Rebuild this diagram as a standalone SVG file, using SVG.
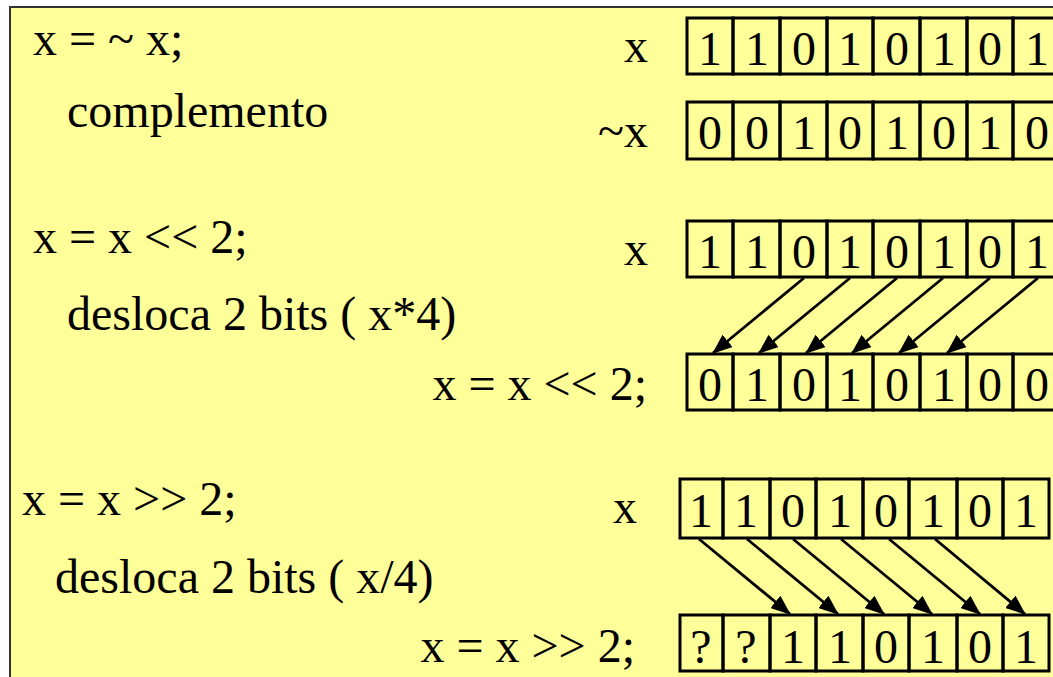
<svg xmlns="http://www.w3.org/2000/svg" width="1053" height="677" viewBox="0 0 1053 677">
  <defs>
    <marker id="head" viewBox="0 0 20 16" refX="19" refY="8" markerWidth="20" markerHeight="16" markerUnits="userSpaceOnUse" orient="auto">
      <path d="M0,0 L20,8 L0,16 z" fill="#000"/>
    </marker>
    <style>
      text { font-family: "Liberation Serif", "Times New Roman", serif; font-size: 48px; fill: #000; }
      .bit { text-anchor: middle; }
      .lbl { text-anchor: end; }
      .cell { fill: none; stroke: #000; stroke-width: 3; }
      .arrow { stroke: #000; stroke-width: 2.8; fill: none; marker-end: url(#head); }
    </style>
  </defs>

  <!-- slide background -->
  <rect x="0" y="0" width="1053" height="677" fill="#ffffff"/>
  <rect x="10" y="7" width="1100" height="720" fill="#FFFF99" stroke="#333" stroke-width="2"/>

  <!-- complement -->
  <g id="complement-text">
    <text x="33" y="55">x = ~ x;</text>
    <text x="67" y="127">complemento</text>
  </g>
  <g id="row-x1">
    <text class="lbl" x="648" y="62">x</text>
    <g class="cells">
      <rect class="cell" x="687" y="18" width="46" height="56"/>
      <rect class="cell" x="733" y="18" width="47" height="56"/>
      <rect class="cell" x="780" y="18" width="47" height="56"/>
      <rect class="cell" x="827" y="18" width="46" height="56"/>
      <rect class="cell" x="873" y="18" width="47" height="56"/>
      <rect class="cell" x="920" y="18" width="47" height="56"/>
      <rect class="cell" x="967" y="18" width="46" height="56"/>
      <rect class="cell" x="1013" y="18" width="50" height="56"/>
    </g>
    <text class="bit" x="710" y="65">1</text>
    <text class="bit" x="757" y="65">1</text>
    <text class="bit" x="804" y="65">0</text>
    <text class="bit" x="850" y="65">1</text>
    <text class="bit" x="897" y="65">0</text>
    <text class="bit" x="944" y="65">1</text>
    <text class="bit" x="990" y="65">0</text>
    <text class="bit" x="1037" y="65">1</text>
  </g>
  <g id="row-notx">
    <text class="lbl" x="648" y="147">~x</text>
    <rect class="cell" x="687" y="102" width="46" height="57"/>
    <rect class="cell" x="733" y="102" width="47" height="57"/>
    <rect class="cell" x="780" y="102" width="47" height="57"/>
    <rect class="cell" x="827" y="102" width="46" height="57"/>
    <rect class="cell" x="873" y="102" width="47" height="57"/>
    <rect class="cell" x="920" y="102" width="47" height="57"/>
    <rect class="cell" x="967" y="102" width="46" height="57"/>
    <rect class="cell" x="1013" y="102" width="50" height="57"/>
    <text class="bit" x="710" y="149">0</text>
    <text class="bit" x="757" y="149">0</text>
    <text class="bit" x="804" y="149">1</text>
    <text class="bit" x="850" y="149">0</text>
    <text class="bit" x="897" y="149">1</text>
    <text class="bit" x="944" y="149">0</text>
    <text class="bit" x="990" y="149">1</text>
    <text class="bit" x="1037" y="149">0</text>
  </g>

  <!-- shift left -->
  <g id="shl-text">
    <text x="33" y="253">x = x &lt;&lt; 2;</text>
    <text x="67" y="330">desloca 2 bits ( x*4)</text>
  </g>
  <g id="row-x2">
    <text class="lbl" x="648" y="265">x</text>
    <rect class="cell" x="687" y="221" width="46" height="56"/>
    <rect class="cell" x="733" y="221" width="47" height="56"/>
    <rect class="cell" x="780" y="221" width="47" height="56"/>
    <rect class="cell" x="827" y="221" width="46" height="56"/>
    <rect class="cell" x="873" y="221" width="47" height="56"/>
    <rect class="cell" x="920" y="221" width="47" height="56"/>
    <rect class="cell" x="967" y="221" width="46" height="56"/>
    <rect class="cell" x="1013" y="221" width="50" height="56"/>
    <text class="bit" x="710" y="268">1</text>
    <text class="bit" x="757" y="268">1</text>
    <text class="bit" x="804" y="268">0</text>
    <text class="bit" x="850" y="268">1</text>
    <text class="bit" x="897" y="268">0</text>
    <text class="bit" x="944" y="268">1</text>
    <text class="bit" x="990" y="268">0</text>
    <text class="bit" x="1037" y="268">1</text>
  </g>
  <g id="row-shl">
    <text class="lbl" x="647" y="400">x = x &lt;&lt; 2;</text>
    <rect class="cell" x="687" y="354" width="46" height="56"/>
    <rect class="cell" x="733" y="354" width="47" height="56"/>
    <rect class="cell" x="780" y="354" width="47" height="56"/>
    <rect class="cell" x="827" y="354" width="46" height="56"/>
    <rect class="cell" x="873" y="354" width="47" height="56"/>
    <rect class="cell" x="920" y="354" width="47" height="56"/>
    <rect class="cell" x="967" y="354" width="46" height="56"/>
    <rect class="cell" x="1013" y="354" width="50" height="56"/>
    <text class="bit" x="710" y="401">0</text>
    <text class="bit" x="757" y="401">1</text>
    <text class="bit" x="804" y="401">0</text>
    <text class="bit" x="850" y="401">1</text>
    <text class="bit" x="897" y="401">0</text>
    <text class="bit" x="944" y="401">1</text>
    <text class="bit" x="990" y="401">0</text>
    <text class="bit" x="1037" y="401">0</text>
  </g>

  <!-- shift right -->
  <g id="shr-text">
    <text x="22" y="515">x = x &gt;&gt; 2;</text>
    <text x="55" y="593">desloca 2 bits ( x/4)</text>
  </g>
  <g id="row-x3">
    <text class="lbl" x="637" y="523">x</text>
    <rect class="cell" x="680" y="479" width="43" height="59"/>
    <rect class="cell" x="723" y="479" width="47" height="59"/>
    <rect class="cell" x="770" y="479" width="46" height="59"/>
    <rect class="cell" x="816" y="479" width="47" height="59"/>
    <rect class="cell" x="863" y="479" width="46" height="59"/>
    <rect class="cell" x="909" y="479" width="48" height="59"/>
    <rect class="cell" x="957" y="479" width="46" height="59"/>
    <rect class="cell" x="1003" y="479" width="46" height="59"/>
    <text class="bit" x="701" y="527">1</text>
    <text class="bit" x="746" y="527">1</text>
    <text class="bit" x="793" y="527">0</text>
    <text class="bit" x="840" y="527">1</text>
    <text class="bit" x="886" y="527">0</text>
    <text class="bit" x="933" y="527">1</text>
    <text class="bit" x="980" y="527">0</text>
    <text class="bit" x="1026" y="527">1</text>
  </g>
  <g id="row-shr">
    <text class="lbl" x="635" y="662">x = x &gt;&gt; 2;</text>
    <rect class="cell" x="680" y="615" width="43" height="56"/>
    <rect class="cell" x="723" y="615" width="47" height="56"/>
    <rect class="cell" x="770" y="615" width="46" height="56"/>
    <rect class="cell" x="816" y="615" width="47" height="56"/>
    <rect class="cell" x="863" y="615" width="46" height="56"/>
    <rect class="cell" x="909" y="615" width="48" height="56"/>
    <rect class="cell" x="957" y="615" width="46" height="56"/>
    <rect class="cell" x="1003" y="615" width="46" height="56"/>
    <text class="bit" x="701" y="663">?</text>
    <text class="bit" x="746" y="663">?</text>
    <text class="bit" x="793" y="663">1</text>
    <text class="bit" x="840" y="663">1</text>
    <text class="bit" x="886" y="663">0</text>
    <text class="bit" x="933" y="663">1</text>
    <text class="bit" x="980" y="663">0</text>
    <text class="bit" x="1026" y="663">1</text>
  </g>

  <!-- bit movement arrows -->
  <g id="connectors">
    <line class="arrow" x1="804" y1="278" x2="713" y2="353"/>
    <line class="arrow" x1="850" y1="278" x2="759" y2="353"/>
    <line class="arrow" x1="897" y1="278" x2="806" y2="353"/>
    <line class="arrow" x1="943" y1="278" x2="852" y2="353"/>
    <line class="arrow" x1="990" y1="278" x2="899" y2="353"/>
    <line class="arrow" x1="1038" y1="278" x2="947" y2="353"/>

    <line class="arrow" x1="699" y1="539" x2="790" y2="614"/>
    <line class="arrow" x1="747" y1="539" x2="838" y2="614"/>
    <line class="arrow" x1="793" y1="539" x2="884" y2="614"/>
    <line class="arrow" x1="841" y1="539" x2="932" y2="614"/>
    <line class="arrow" x1="889" y1="539" x2="980" y2="614"/>
    <line class="arrow" x1="935" y1="539" x2="1025" y2="614"/>
  </g>
</svg>
